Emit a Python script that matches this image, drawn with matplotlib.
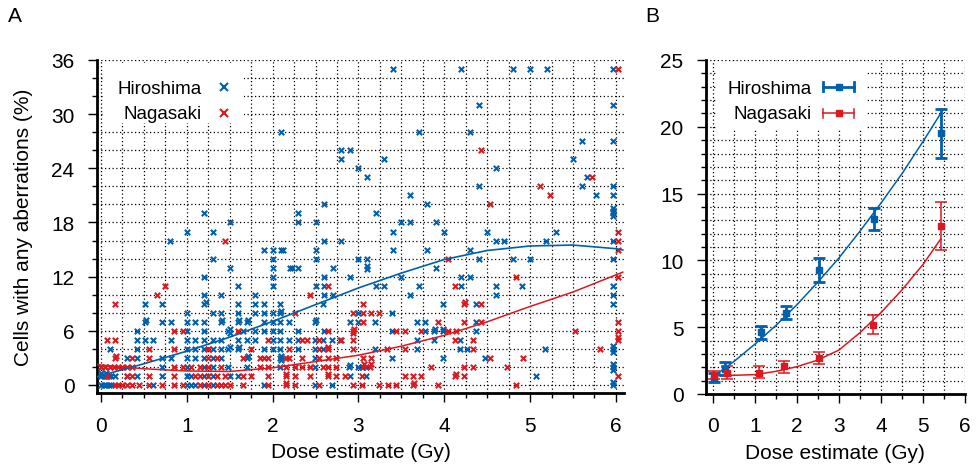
import numpy as np
import matplotlib.pyplot as plt
from matplotlib.lines import Line2D
from matplotlib.patches import Rectangle
from matplotlib.ticker import MultipleLocator

plt.rcParams['font.family'] = ['Liberation Sans', 'DejaVu Sans']

BLUE = '#0060ad'
RED = '#dd181f'
FS = 15        # ticks and axis titles
FS_LEG = 13.5  # legend entries
W, H = 978, 477

# ---- panel A: individual survivors (dose in Gy, % aberrant cells) ----
hiro_pts = [
    # upper part
    (0.8, 16), (1.0, 17), (1.2, 19), (1.3, 17), (1.5, 18), (2.1, 28), (2.3, 19), (2.3, 18),
    (2.5, 18), (2.6, 20), (2.6, 16), (2.8, 16), (2.8, 26), (2.9, 26), (2.8, 25), (3.0, 24),
    (1.9, 15), (2.0, 15), (2.1, 15), (2.12, 15), (2.5, 15), (1.3, 14), (2.0, 14), (2.5, 14),
    (3.0, 14), (1.5, 13), (2.0, 13), (2.2, 13), (2.22, 13), (2.3, 13), (2.7, 13), (1.2, 12),
    (2.0, 12), (2.6, 12), (2.9, 12), (1.6, 11), (2.0, 11), (2.5, 11), (2.6, 11), (1.2, 10),
    (1.4, 10), (1.8, 10), (2.6, 10), (2.7, 10),
    (3.4, 35), (4.2, 35), (4.8, 35), (5.0, 35), (5.2, 35), (5.97, 35), (4.4, 31), (5.97, 31),
    (3.7, 28), (4.3, 28), (5.6, 27), (5.97, 27), (3.3, 25), (5.5, 25), (4.6, 24), (3.1, 23),
    (5.66, 23), (4.4, 22), (5.6, 22), (5.97, 22), (3.6, 21), (5.77, 21), (5.97, 21), (3.8, 20),
    (5.97, 19.6), (5.97, 19.3), (5.97, 19), (5.97, 18.7), (3.2, 19), (3.5, 18), (3.6, 18),
    (3.9, 18), (3.4, 17), (4.0, 17), (4.5, 17), (5.3, 17), (5.97, 16), (4.6, 16), (4.7, 16),
    (5.18, 16), (3.4, 15), (3.8, 15), (4.3, 15), (3.1, 14), (4.4, 14), (4.8, 14), (5.0, 14),
    (5.97, 14), (3.1, 13.2), (3.1, 12.9), (3.9, 13), (3.5, 12), (4.2, 12), (4.3, 12), (3.2, 11),
    (3.3, 11), (3.7, 11), (4.2, 11), (4.6, 11), (4.9, 11), (5.97, 11), (3.6, 10), (4.6, 10),
    (5.97, 10),
    # lower part
    (0.51, 9), (0.71, 9), (1.2, 9), (1.22, 9.2), (1.6, 9), (1.8, 9), (1.9, 9), (2.09, 9),
    (2.59, 9), (3.98, 9), (4.37, 9), (5.97, 9),
    (1.0, 8), (1.3, 8), (1.4, 8), (1.6, 8), (1.8, 8), (1.9, 8), (2.0, 8), (2.09, 8), (2.1, 8.2),
    (2.99, 8), (3.39, 8),
    (0.51, 7), (0.52, 7.2), (0.71, 7), (0.81, 7), (1.0, 7), (1.1, 7), (1.2, 7), (1.4, 7),
    (1.41, 7.2), (1.6, 7), (1.61, 7.2), (1.7, 7), (1.71, 7.2), (1.9, 7), (2.0, 7), (2.09, 7),
    (2.19, 7), (2.49, 7), (2.5, 7.2), (2.9, 7), (3.0, 7), (3.19, 7), (3.68, 7), (3.78, 7), (4.37, 7),
    (0.42, 6), (1.0, 6), (1.2, 6), (1.48, 6), (1.5, 6.2), (1.5, 5.8), (1.65, 6), (1.8, 6),
    (1.9, 6), (2.0, 6), (2.09, 6), (2.3, 6), (2.6, 6), (3.39, 6), (3.78, 6), (3.88, 6),
    (3.89, 6.2), (3.98, 6), (3.99, 6.2), (4.37, 6),
    (0.42, 5), (0.51, 5), (0.61, 5), (0.81, 5), (1.0, 5), (1.1, 5), (1.2, 5), (1.3, 5), (1.4, 5),
    (1.6, 5), (1.7, 5), (1.8, 5), (2.0, 5), (2.09, 5), (2.19, 5), (2.3, 5), (2.49, 5), (2.59, 5),
    (2.69, 5), (2.79, 5), (3.68, 5), (3.88, 5), (4.18, 5),
    (0.11, 4), (0.42, 4), (1.0, 4), (1.1, 4), (1.2, 4), (1.3, 4), (1.4, 4), (1.48, 4), (1.5, 4.2),
    (1.6, 4), (1.61, 4.2), (1.9, 4), (2.0, 4), (2.09, 4), (2.3, 4), (2.49, 4), (2.59, 4),
    (3.19, 4), (3.68, 4), (4.18, 4), (4.27, 4), (5.17, 4), (5.97, 4), (5.97, 3.7), (5.97, 4.3),
    (0.3, 3), (0.42, 3), (0.71, 3), (0.81, 3), (1.0, 3), (1.1, 3), (1.2, 3), (1.3, 3), (1.4, 3),
    (1.7, 3), (1.71, 3.2), (2.09, 3), (2.1, 3.2), (2.1, 2.8), (2.49, 3), (3.39, 3), (3.98, 3),
    (4.48, 3),
    (0.0, 2), (0.05, 2), (0.71, 2), (1.0, 2), (1.2, 2), (1.3, 2), (1.48, 2), (1.7, 2), (2.09, 2),
    (2.49, 2), (2.89, 2), (2.9, 2.2), (2.99, 2), (3.04, 2), (3.09, 2), (5.97, 2), (5.97, 1.7),
    (5.97, 2.3),
    (0.0, 1), (0.03, 1), (0.06, 1), (0.09, 1), (0.12, 1), (0.16, 1), (0.0, 1.3), (0.06, 1.3),
    (0.3, 1), (0.42, 1), (0.71, 1), (1.0, 1), (1.05, 1), (1.2, 1), (1.3, 1), (1.5, 1), (1.6, 1),
    (2.9, 1), (3.09, 1), (5.07, 1),
    (0.0, 0), (0.03, 0), (0.06, 0), (0.09, 0), (0.12, 0), (0.61, 0), (1.0, 0), (1.05, 0), (1.1, 0),
    (1.2, 0), (1.3, 0), (1.9, 0), (2.49, 0), (2.69, 0), (5.97, 0), (5.97, 0.3),
]

naga_pts = [
    # upper part
    (1.45, 16), (0.75, 11), (0.65, 10), (2.64, 11), (2.44, 10), (6.02, 35), (4.43, 26), (5.72, 23),
    (5.12, 22), (5.23, 21), (4.53, 20), (6.02, 17), (6.02, 16), (6.02, 15), (4.04, 14), (4.83, 12),
    (6.02, 12), (4.13, 11),
    # lower part
    (0.16, 9), (3.05, 9), (4.23, 9), (4.24, 9.2), (4.43, 9),
    (2.26, 8), (2.94, 8), (3.05, 8), (3.15, 8), (3.24, 8),
    (3.05, 7), (3.93, 7), (4.23, 7), (4.43, 7), (6.02, 7),
    (0.85, 6), (0.96, 6), (1.6, 6), (2.64, 6), (2.94, 6), (2.95, 6.2), (2.94, 5.8), (3.44, 6),
    (3.54, 6), (3.73, 6), (4.04, 6), (4.14, 6), (5.52, 6), (6.02, 6),
    (0.07, 5), (0.16, 5), (1.95, 5), (2.34, 5), (2.4, 5), (2.54, 5), (2.8, 5), (2.94, 5),
    (4.13, 5), (4.33, 5), (6.02, 5), (6.02, 5.3),
    (0.56, 4), (0.85, 4), (1.25, 4), (1.75, 4), (2.19, 4), (2.54, 4), (2.64, 4), (2.65, 4.2),
    (2.94, 4), (3.33, 4), (3.54, 4), (4.33, 4), (5.82, 4),
    (0.16, 3), (0.17, 3.2), (0.36, 3), (0.56, 3), (1.25, 3), (1.35, 3), (1.65, 3), (1.85, 3),
    (1.9, 3), (1.95, 3), (2.15, 3), (2.19, 3), (2.34, 3), (2.54, 3), (2.64, 3), (2.74, 3),
    (3.05, 3), (3.15, 3), (4.53, 3), (4.92, 3),
    (0.0, 2), (0.05, 2), (0.1, 2), (0.15, 2), (0.2, 2), (0.25, 2), (0.3, 2), (0.36, 2), (0.85, 2),
    (0.96, 2), (1.05, 2), (1.15, 2), (1.25, 2), (1.4, 2), (1.85, 2), (1.95, 2), (2.15, 2),
    (2.26, 2), (2.34, 2), (2.44, 2), (2.59, 2), (2.64, 2), (2.74, 2), (3.05, 2), (3.06, 2.3),
    (3.14, 2), (3.15, 2.3), (3.84, 2), (4.23, 2), (4.33, 2), (4.73, 2),
    (0.07, 1), (0.3, 1), (0.36, 1), (0.56, 1), (0.85, 1), (1.1, 1), (1.15, 1), (1.25, 1),
    (1.35, 1), (1.45, 1), (1.65, 1), (1.75, 1), (1.95, 1), (2.15, 1), (2.16, 1.2), (2.26, 1),
    (2.44, 1), (2.64, 1), (2.65, 1.2), (2.74, 1), (2.84, 1), (3.04, 1), (3.54, 1), (3.64, 1),
    (3.73, 1), (4.13, 1), (4.14, 1.2), (4.23, 1), (6.02, 1),
    (0.16, 0), (0.2, 0), (0.25, 0), (0.3, 0), (0.36, 0), (0.44, 0), (0.56, 0), (0.71, 0),
    (0.85, 0), (0.96, 0), (1.15, 0), (1.25, 0), (1.35, 0), (1.4, 0), (1.45, 0), (1.5, 0),
    (1.65, 0), (1.95, 0), (2.15, 0), (2.16, 0.2), (2.26, 0), (2.54, 0), (2.94, 0), (3.04, 0),
    (3.24, 0), (3.34, 0), (3.44, 0), (3.64, 0), (3.65, 0.2), (3.93, 0), (4.83, 0),
]

# fitted curves of panel A
fitA_dose = [-0.05, 0, 0.5, 1, 1.5, 2, 2.5, 3, 3.5, 4, 4.5, 5, 5.5, 6, 6.08]
fitA_hiro = [0.9, 1.05, 2.35, 3.75, 5.3, 7.05, 8.9, 10.75, 12.4, 13.9, 14.9, 15.4, 15.5, 15.1, 14.95]
fitA_naga = [2.3, 2.2, 1.8, 1.55, 1.5, 1.9, 2.6, 3.3, 4.3, 5.5, 7.0, 8.7, 10.3, 12.2, 12.5]

# ---- panel B: grouped means with error bars ----
grpB_hiro_dose = [0.02, 0.27, 1.14, 1.74, 2.52, 3.84, 5.42]
grpB_hiro = [1.2, 1.9, 4.65, 6.1, 9.3, 13.1, 19.5]
grpB_hiro_lo = [0.9, 1.4, 4.15, 5.6, 8.35, 12.3, 17.7]
grpB_hiro_hi = [1.6, 2.4, 5.1, 6.6, 10.2, 13.9, 21.3]

grpB_naga_dose = [0.02, 0.33, 1.08, 1.69, 2.53, 3.81, 5.42]
grpB_naga = [1.45, 1.6, 1.57, 2.07, 2.71, 5.18, 12.6]
grpB_naga_lo = [1.15, 1.1, 1.17, 1.6, 2.27, 4.48, 10.8]
grpB_naga_hi = [1.75, 2.1, 2.07, 2.5, 3.16, 5.9, 14.4]

fitB_dose = [0, 0.5, 1, 1.5, 2, 2.5, 3, 3.5, 4, 4.5, 5, 5.42]
fitB_hiro = [1.3, 2.45, 3.75, 5.15, 6.7, 8.4, 10.2, 12.2, 14.3, 16.5, 18.9, 21.0]
fitB_naga = [1.37, 1.4, 1.45, 1.7, 2.05, 2.55, 3.3, 4.6, 6.1, 7.8, 9.7, 11.6]


def fxy(px, py):
    # pixel position (from top-left) -> figure fraction
    return px / W, 1 - py / H


def style_axes(ax, xmaj, xmin, ymaj, ymin):
    for s in ['top', 'right']:
        ax.spines[s].set_visible(False)
    for s in ['left', 'bottom']:
        ax.spines[s].set_linewidth(2)
    ax.xaxis.set_major_locator(MultipleLocator(xmaj))
    ax.xaxis.set_minor_locator(MultipleLocator(xmin))
    ax.yaxis.set_major_locator(MultipleLocator(ymaj))
    ax.yaxis.set_minor_locator(MultipleLocator(ymin))
    ax.tick_params(which='major', direction='out', length=6.5, width=1, pad=9.5, labelsize=FS)
    ax.tick_params(which='minor', direction='out', length=3.5, width=1)
    ax.grid(True, which='both', color='black', linestyle=(0, (1, 2)), linewidth=0.9)
    ax.set_axisbelow(True)


fig = plt.figure(figsize=(W / 100, H / 100), dpi=100)

axA = fig.add_axes([96.7 / W, 1 - 394.3 / H, (624.5 - 96.7) / W, (394.3 - 61) / H])
style_axes(axA, 1, 0.25, 6, 2)
axA.set_xlim(-0.05, 6.1)
axA.set_ylim(-0.92, 36)

hx, hy = zip(*hiro_pts)
nx, ny = zip(*naga_pts)
axA.scatter(hx, hy, marker='x', s=15, linewidths=1.5, color=BLUE, zorder=3)
axA.scatter(nx, ny, marker='x', s=15, linewidths=1.5, color=RED, zorder=3)
axA.plot(fitA_dose, fitA_hiro, color=BLUE, lw=1.2, zorder=4)
axA.plot(fitA_dose, fitA_naga, color=RED, lw=1.1, zorder=4)
axA.set_xlabel('Dose estimate (Gy)', fontsize=FS, labelpad=5.5)
axA.set_ylabel('Cells with any aberrations (%)', fontsize=FS, labelpad=13)

axB = fig.add_axes([705.7 / W, 1 - 395 / H, (965 - 705.7) / W, (395 - 61) / H])
style_axes(axB, 1, 0.5, 5, 1)
axB.set_xlim(-0.18, 6.0)
axB.set_ylim(0, 25)

axB.plot(fitB_dose, fitB_hiro, color=BLUE, lw=1.1, zorder=3)
axB.plot(fitB_dose, fitB_naga, color=RED, lw=1.1, zorder=3)
hb = np.array(grpB_hiro)
nb = np.array(grpB_naga)
axB.errorbar(grpB_hiro_dose, hb, yerr=[hb - np.array(grpB_hiro_lo), np.array(grpB_hiro_hi) - hb],
             fmt='s', color=BLUE, ms=5, lw=2, capsize=4.5, capthick=2, zorder=4)
axB.errorbar(grpB_naga_dose, nb, yerr=[nb - np.array(grpB_naga_lo), np.array(grpB_naga_hi) - nb],
             fmt='s', color=RED, ms=5, lw=1.1, capsize=4.5, capthick=1.1, zorder=4)
axB.set_xlabel('Dose estimate (Gy)', fontsize=FS, labelpad=5.5)

# panel letters
fig.text(*fxy(7.5, 21.7), 'A', fontsize=15, va='baseline', ha='left')
fig.text(*fxy(645.5, 21.7), 'B', fontsize=15, va='baseline', ha='left')

# legend of panel A
fig.add_artist(Rectangle(fxy(103, 124), 141 / W, 60 / H, transform=fig.transFigure,
                         facecolor='white', edgecolor='none', zorder=5))
for label, col, yb, ym in [('Hiroshima', BLUE, 94.3, 87.7), ('Nagasaki', RED, 119.3, 114)]:
    fig.text(*fxy(202, yb), label, fontsize=FS_LEG, ha='right', va='baseline', zorder=6)
    x0, y0 = fxy(224, ym)
    fig.add_artist(Line2D([x0], [y0], marker='x', ms=5.5, mew=1.5, color=col,
                          transform=fig.transFigure, zorder=6))

# legend of panel B
fig.add_artist(Rectangle(fxy(716, 130), 151 / W, 66 / H, transform=fig.transFigure,
                         facecolor='white', edgecolor='none', zorder=5))
for label, col, lw, yb, ym in [('Hiroshima', BLUE, 2, 94.3, 87.7), ('Nagasaki', RED, 1.1, 119.3, 114)]:
    fig.text(*fxy(811.5, yb), label, fontsize=FS_LEG, ha='right', va='baseline', zorder=6)
    xa, y0 = fxy(823.5, ym)
    xb, _ = fxy(854, ym)
    xm, _ = fxy(839, ym)
    cap = 4.5 / H
    fig.add_artist(Line2D([xa, xb], [y0, y0], lw=lw, color=col, transform=fig.transFigure, zorder=6))
    for xc in (xa, xb):
        fig.add_artist(Line2D([xc, xc], [y0 - cap, y0 + cap], lw=lw, color=col,
                              transform=fig.transFigure, zorder=6))
    fig.add_artist(Line2D([xm], [y0], marker='s', ms=5, color=col, lw=0,
                          transform=fig.transFigure, zorder=7))

fig.savefig('out.png', dpi=100)
